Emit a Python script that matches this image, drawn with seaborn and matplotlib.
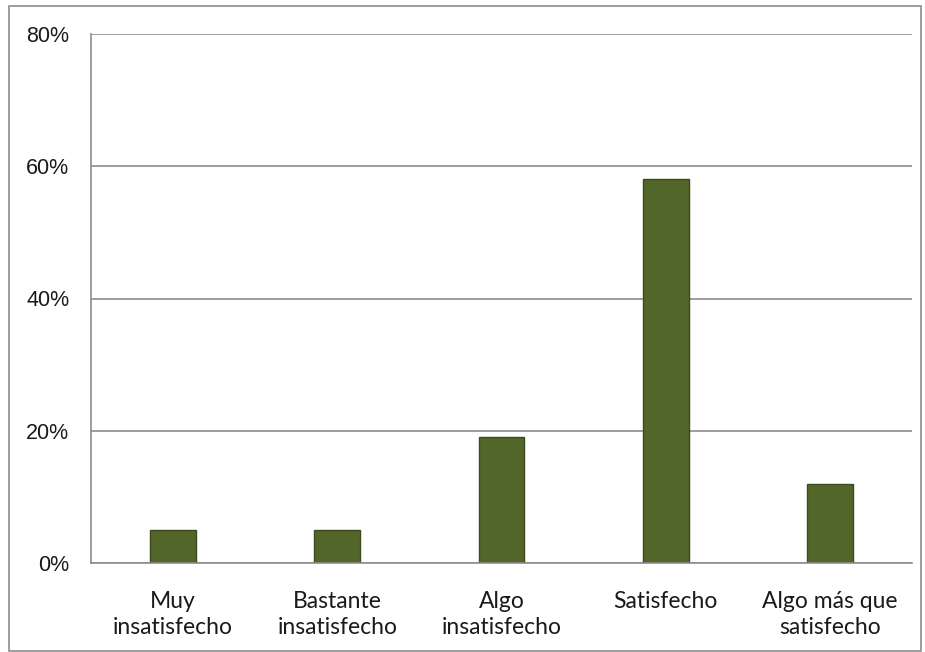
import matplotlib
matplotlib.use("Agg")
import matplotlib.pyplot as plt
import matplotlib.patches as mpatches
import seaborn as sns
import pandas as pd
from matplotlib.ticker import FuncFormatter

# datos
categorias = ["Muy\ninsatisfecho", "Bastante\ninsatisfecho", "Algo\ninsatisfecho",
              "Satisfecho", "Algo más que\nsatisfecho"]
porcentajes = [5, 5, 19, 58, 12]
yticks = [0, 20, 40, 60, 80]

df = pd.DataFrame({"categoria": categorias, "pct": porcentajes})

sns.set_style("white")
plt.rcParams['font.family'] = ['Liberation Sans', 'DejaVu Sans']

fig = plt.figure(figsize=(9.25, 6.52), dpi=100)
ax = fig.add_axes([91 / 925, 1 - 563 / 652, 821 / 925, (563 - 34) / 652])

sns.barplot(data=df, x="categoria", y="pct", color="#526629", width=0.28,
            edgecolor="#3b4a1d", linewidth=1, saturation=1, ax=ax)

ax.set_ylim(0, 80)
ax.set_xlim(-0.5, 4.5)
ax.set_yticks(yticks)
ax.yaxis.set_major_formatter(FuncFormatter(lambda v, p: f"{v:.0f}%"))
ax.set_xlabel("")
ax.set_ylabel("")

ax.grid(axis="y", color="#8c8c8c", linewidth=1.2)
ax.set_axisbelow(True)
for s in ["top", "right"]:
    ax.spines[s].set_visible(False)
for s in ["left", "bottom"]:
    ax.spines[s].set_color("#8c8c8c")
    ax.spines[s].set_linewidth(1.2)

# ticks de x entre categorias
ax.set_xticks([-0.5, 0.5, 1.5, 2.5, 3.5, 4.5], minor=False)
ax.set_xticklabels([])
ax.set_xticks(range(5), minor=True)
ax.set_xticklabels(categorias, minor=True, fontsize=16.5, family=['Lato', 'DejaVu Sans'],
                   color="#1a1a1a", linespacing=1.3)
ax.tick_params(axis="x", which="major", direction="out", length=6.5, color="#8c8c8c", width=1.2)
ax.tick_params(axis="x", which="minor", length=0, pad=20)
ax.tick_params(axis="y", direction="out", length=6.5, color="#8c8c8c", width=1.2,
               labelsize=15.5, labelcolor="#1a1a1a", pad=9)

# borde exterior
fig.patches.append(mpatches.Rectangle((9 / 925, 0.002), 912 / 925, 1 - 6 / 652 - 0.002,
                                      transform=fig.transFigure, fill=False,
                                      edgecolor="#8c8c8c", linewidth=1.2))

fig.savefig("out.png", dpi=100)
